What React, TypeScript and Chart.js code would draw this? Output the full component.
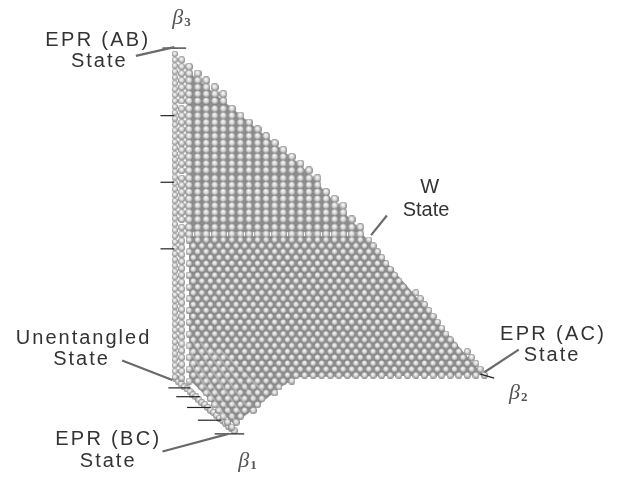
import React, { useEffect, useRef } from "react";
import { Chart, registerables } from "chart.js";

Chart.register(...registerables);

// Picture-space readings (axes are hidden; the chart is a projected 3-D lattice)
const rowY = [56,63,70,77,84,91,98,106,113,120,127,134,141,148,155,162,169,177,184,191,198,205,212,219,227,234,240,246,252,258,264,270,276,282,288,294,300,306,312,318,324,330,336,342,348,354,360,366,372,378,384,390,396,402,408,414,420,426,431];
const rowLeft = [187,187,187,187,187,187,187,187,187,187,187,187,187,187,187,187,187,187,187,187,187,187,187,187,187,187,187,187,187,187,187,187,187,187,187,187,187,187,187,187,187,187,187,187,187,187,187,187,187,187,186,192,197,203,208,214,219,225,230];
const rowRight = [182,190,198,206,214,222,230,239,247,255,263,271,279,287,295,304,312,319,325,332,338,344,350,356,363,368,371,377,382,387,392,397,402,407,412,418,423,428,433,438,444,449,454,459,464,470,475,480,485,490,292,284,276,269,262,254,247,239,233];
const latticeX = [187,195.7,204.4,213.1,221.8,230.5,239.2,247.9,256.6,265.3,274,282.7,291.4,300.1,308.8,317.5,326.2,334.9,343.6,352.3,361,369.7,378.4,387.1,395.8,404.5,413.2,421.9,430.6,439.3,448,456.7,465.4,474.1,482.8,491.5];
const latticeShiftX = [191.3,200,208.7,217.4,226.1,234.8,243.5,252.2,260.9,269.6,278.3,287,295.7,304.4,313.1,321.8,330.5,339.2,347.9,356.6,365.3,374,382.7,391.4,400.1,408.8,417.5,426.2,434.9,443.6,452.3,461,469.7,478.4,487.1];
const leftColumnY = [50,56,62,68,74,80,86,92,98,104,110,116,122,128,134,140,146,152,158,164,170,176,182,188,194,200,206,212,218,224,230,236,242,248,254,260,266,272,278,284,290,296,302,308,314,320,326,332,338,344,350,356,362,368,374,380];
const secondColumnY = [56,63,70,77,84,91,98,106,113,120,127,134,141,148,155,162,169,177,184,191,198,205,212,219,227,234,241,248,255,262,269,276,283,290,297,304,311,318,325,332,339,346,353,360,367,374,381];
const baseEdgeX = [173,176,179,182,185,188,191,194,197,200,203,206,209,212,215,218,221,224,227,230,233];
const baseEdgeY = [381,384,387,390,392,395,398,400,403,406,408,411,414,416,419,422,424,427,430,432,435];
const surfaceOutlineX = [187,365,486,298,285,273,261,246,232,187];
const surfaceOutlineY = [236,236,378,380,387,396,406,418,428,382];
const upperOutlineX = [186,302,363,186];
const upperOutlineY = [68,165,232,232];

const fanStreaks = [
  [182,345,236,428],[190,342,240,418],[199,345,246,410],[208,350,254,402],[186,362,226,424],[218,352,262,394],
];
const axisTicks = [
  [160,44,184,44],[158,113,172,113],[158,181,172,181],[158,249,172,249],
  [166,391,188,391],[174,400,198,400],[185,411,209,411],[196,424,220,424],[213,438,243,438],
  [483,377,497,381],
];
const leaderLines = [
  [133,52,172,43],[388,215,372,235],[522,352,487,375],[119,363,170,383],[160,456,227,438],
];
const stateLabels = [
  ["EPR (AB)",41,42,2.3],["State",67,63,2],
  ["W",422,192,0],["State",404,215,0],
  ["EPR (AC)",503,342,2.3],["State",527,364,2],
  ["Unentangled",11,346,2],["State",49,368,2],
  ["EPR (BC)",51,449,2.3],["State",76,472,2],
];
const betaLabels = [["3",170,19],["2",512,402],["1",237,472]];

function sphere(d: number) {
  const c = document.createElement("canvas");
  c.width = d; c.height = d;
  const g = c.getContext("2d")!;
  const r = d / 2;
  const grad = g.createRadialGradient(r * 0.9, r * 0.65, 0.2, r, r, r);
  grad.addColorStop(0, "#fafafa");
  grad.addColorStop(0.5, "#d8d8d8");
  grad.addColorStop(0.8, "#a0a0a0");
  grad.addColorStop(1, "#7c7c7c");
  g.fillStyle = grad;
  g.beginPath(); g.arc(r, r, r, 0, Math.PI * 2); g.fill();
  return c;
}

export default function App() {
  const ref = useRef<HTMLCanvasElement>(null);
  useEffect(() => {
    const upper: {x:number;y:number}[] = [];
    const lower: {x:number;y:number}[] = [];
    rowY.forEach((y, i) => {
      const cols = i >= 26 && i % 2 === 1 ? latticeShiftX : latticeX;
      const target = i >= 26 ? lower : upper;
      cols.forEach((x) => { if (x >= rowLeft[i] && x <= rowRight[i]) target.push({ x, y }); });
    });
    const left = leftColumnY.map((y) => ({ x: 172.5, y }));
    const second = secondColumnY.map((y) => ({ x: 179.5, y }));
    const edge = baseEdgeX.map((x, i) => ({ x, y: baseEdgeY[i] }));
    const seg = (s: number[], color: string, w: number) => ({
      type: "line" as const, data: [{ x: s[0], y: s[1] }, { x: s[2], y: s[3] }],
      borderColor: color, borderWidth: w, pointRadius: 0, tension: 0,
    });
    const pts = (data: {x:number;y:number}[], d: number) => ({
      type: "scatter" as const, data, pointStyle: sphere(d) as any, pointRadius: d / 2, pointHoverRadius: d / 2,
    });
    const backing = {
      id: "backing",
      beforeDatasetsDraw(ch: any) {
        const c = ch.ctx; const sx = ch.scales.x; const sy = ch.scales.y;
        const poly = (xs: number[], ys: number[], color: string) => {
          c.beginPath();
          xs.forEach((x, i) => {
            const px = sx.getPixelForValue(x); const py = sy.getPixelForValue(ys[i]);
            if (i === 0) c.moveTo(px, py); else c.lineTo(px, py);
          });
          c.closePath(); c.fillStyle = color; c.fill();
        };
        poly(upperOutlineX, upperOutlineY, "#8e8e8e");
        poly(surfaceOutlineX, surfaceOutlineY, "#8e8e8e");
      },
    };
    const labels = {
      id: "labels",
      afterDatasetsDraw(ch: any) {
        const c = ch.ctx; const sx = ch.scales.x; const sy = ch.scales.y;
        c.save();
        c.fillStyle = "#333333"; c.textAlign = "left"; c.textBaseline = "alphabetic";
        c.font = "20px 'Liberation Sans'";
        stateLabels.forEach(([t, x, y, sp]) => {
          (c as any).letterSpacing = sp + "px";
          c.fillText(t as string, sx.getPixelForValue(x as number), sy.getPixelForValue(y as number));
        });
        (c as any).letterSpacing = "0px";
        c.fillStyle = "#555555";
        betaLabels.forEach(([n, x, y]) => {
          const px = sx.getPixelForValue(x); const py = sy.getPixelForValue(y);
          c.font = "italic 22px 'Liberation Serif'";
          c.fillText("\u03B2", px, py);
          c.font = "bold 13px 'Liberation Serif'";
          c.fillText(n as string, px + 12, py + 2);
        });
        c.restore();
      },
    };
    const chart = new Chart(ref.current!, {
      data: {
        datasets: [
          ...leaderLines.map((s) => seg(s, "#6a6a6a", 2.2)),
          ...axisTicks.map((s) => seg(s, "#222222", 1.2)),
          ...fanStreaks.map((s) => seg(s, "rgba(215,215,215,0.45)", 1.8)),
          pts(lower, 7),
          pts(upper, 8),
          pts(second, 7),
          pts(left, 6),
          pts(edge, 7),
        ] as any,
      },
      options: {
        responsive: false,
        animation: false,
        layout: { padding: 0 },
        plugins: { legend: { display: false }, tooltip: { enabled: false } },
        scales: {
          x: { type: "linear", min: 0, max: 634, display: false },
          y: { type: "linear", min: 0, max: 482, reverse: true, display: false },
        },
      },
      plugins: [backing, labels],
    });
    return () => chart.destroy();
  }, []);
  return (
    <div style={{ position: "absolute", left: 0, top: 0, width: 634, height: 482, background: "#fff" }}>
      <canvas ref={ref} width={634} height={482} style={{ display: "block" }} />
    </div>
  );
}
